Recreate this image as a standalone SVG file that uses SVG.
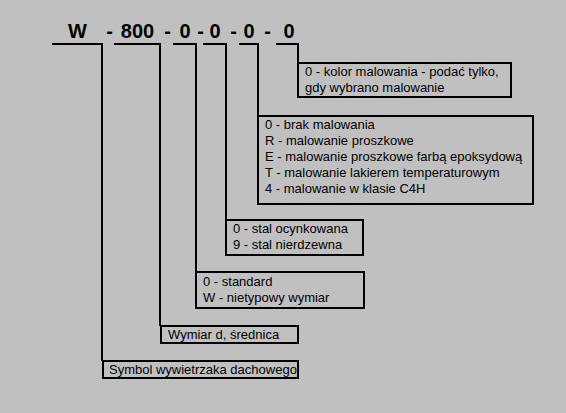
<svg xmlns="http://www.w3.org/2000/svg" width="566" height="413" viewBox="0 0 566 413">
  <style>
    .title { font-family: "Liberation Sans", Arial, sans-serif; font-size: 20px; font-weight: bold; fill: #000; text-anchor: middle; }
    .lbl { font-family: "Liberation Sans", Arial, sans-serif; font-size: 13px; fill: #000; }
    .box { fill: none; stroke: #000; stroke-width: 2; }
    .conn { fill: none; stroke: #000; stroke-width: 2; }
  </style>
  <rect x="0" y="0" width="566" height="413" fill="#c0c0c0"/>
  <g id="code">
    <text class="title" x="77.5" y="38">W</text>
    <text class="title" x="109.5" y="38">-</text>
    <text class="title" x="137.5" y="38">800</text>
    <text class="title" x="167.5" y="38">-</text>
    <text class="title" x="185" y="38">0</text>
    <text class="title" x="200.5" y="38">-</text>
    <text class="title" x="215" y="38">0</text>
    <text class="title" x="233.5" y="38">-</text>
    <text class="title" x="249" y="38">0</text>
    <text class="title" x="267.5" y="38">-</text>
    <text class="title" x="289" y="38">0</text>
  </g>
  <g id="connectors">
    <path class="conn" d="M52 44 H102 V361"/>
    <path class="conn" d="M114 44 H160 V326"/>
    <path class="conn" d="M173 44 H196 V272"/>
    <path class="conn" d="M203 44 H226 V220"/>
    <path class="conn" d="M239 44 H258 V116"/>
    <path class="conn" d="M276 44 H298 V63"/>
  </g>
  <g id="kolor">
    <rect class="box" x="298" y="63" width="213" height="34"/>
    <text class="lbl" x="305" y="76">0 - kolor malowania - podać tylko,</text>
    <text class="lbl" x="305" y="92">gdy wybrano malowanie</text>
  </g>
  <g id="malowanie">
    <rect class="box" x="258" y="116" width="275" height="88"/>
    <text class="lbl" x="265" y="129">0 - brak malowania</text>
    <text class="lbl" x="265" y="145">R - malowanie proszkowe</text>
    <text class="lbl" x="265" y="161">E - malowanie proszkowe farbą epoksydową</text>
    <text class="lbl" x="265" y="177">T - malowanie lakierem temperaturowym</text>
    <text class="lbl" x="265" y="193">4 - malowanie w klasie C4H</text>
  </g>
  <g id="stal">
    <rect class="box" x="226" y="220" width="137" height="35"/>
    <text class="lbl" x="233" y="233">0 - stal ocynkowana</text>
    <text class="lbl" x="233" y="249">9 - stal nierdzewna</text>
  </g>
  <g id="wykonanie">
    <rect class="box" x="196" y="272" width="168" height="36"/>
    <text class="lbl" x="203" y="286">0 - standard</text>
    <text class="lbl" x="203" y="302">W - nietypowy wymiar</text>
  </g>
  <g id="wymiar">
    <rect class="box" x="161" y="326" width="137" height="17"/>
    <text class="lbl" x="168" y="339">Wymiar d, średnica</text>
  </g>
  <g id="symbol">
    <rect class="box" x="103" y="361" width="195" height="17"/>
    <text class="lbl" x="109" y="374">Symbol wywietrzaka dachowego</text>
  </g>
</svg>
